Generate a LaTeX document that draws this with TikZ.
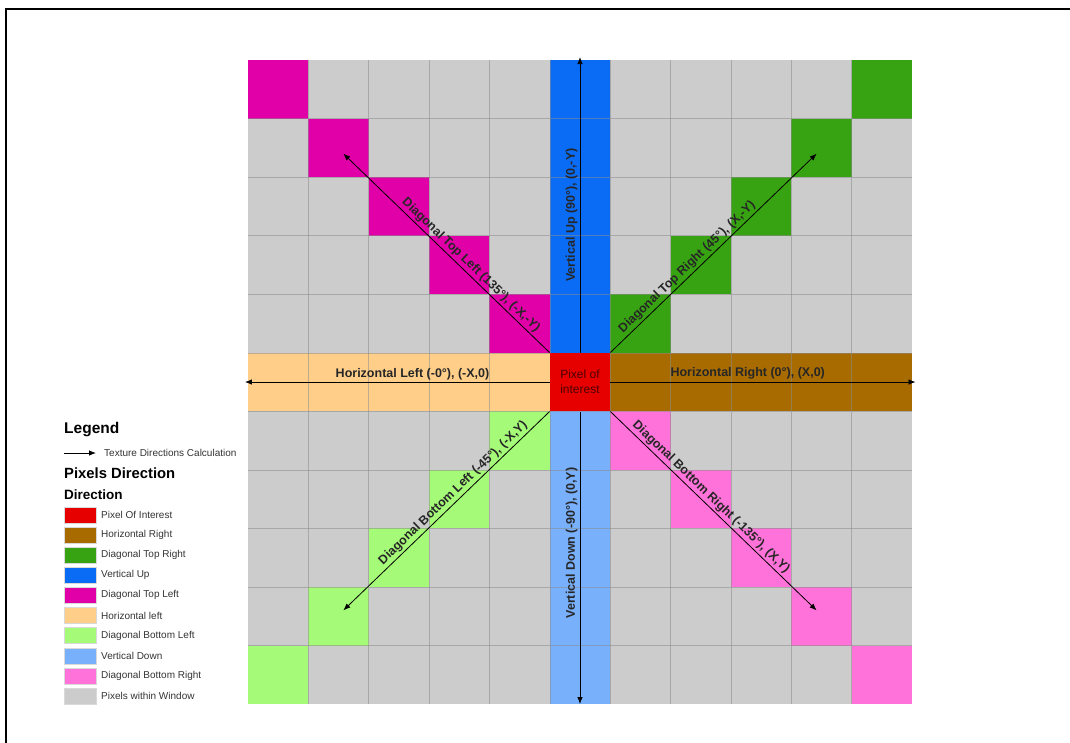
\documentclass[tikz,border=0pt]{standalone}
\usepackage{fontspec}
\setmainfont{Liberation Sans}
\usetikzlibrary{arrows.meta}
\definecolor{Window}{HTML}{CCCCCC}
\definecolor{Interest}{HTML}{E60000}
\definecolor{HorRight}{HTML}{A86B00}
\definecolor{DiagTR}{HTML}{38A312}
\definecolor{VertUp}{HTML}{0A6CF5}
\definecolor{DiagTL}{HTML}{E100A8}
\definecolor{HorLeft}{HTML}{FFCF8A}
\definecolor{DiagBL}{HTML}{A5FA78}
\definecolor{VertDown}{HTML}{78B0FB}
\definecolor{DiagBR}{HTML}{FF72D9}
\begin{document}
\begin{tikzpicture}[x=1pt,y=-1pt]
	\tikzstyle{Arrow} = [-{Latex[length=7pt,width=5.5pt]}, line width=0.8pt, black]
	\tikzstyle{Label} = [font=\bfseries\fontsize{12.5}{14}\selectfont, text=black!85, inner sep=2pt]
	\tikzstyle{Swatch} = [draw=black!15, minimum width=32pt, minimum height=16pt, inner sep=0pt]
	\tikzstyle{Item} = [font=\fontsize{10}{12}\selectfont, text=black!80, anchor=west, inner sep=0pt]
	\useasboundingbox (0,0) rectangle (1070,743);
	\draw[line width=1.3pt] (6,743) -- (6,9) -- (1070,9);
	% pixel window
	\begin{scope}[xshift=248pt, yshift=-60pt, x=60.36pt, y=-58.55pt]
		\fill[Window] (0,0) rectangle (11,11);
		\fill[HorLeft] (0,5) rectangle (5,6);
		\fill[HorRight] (6,5) rectangle (11,6);
		\fill[VertUp] (5,0) rectangle (6,5);
		\fill[VertDown] (5,6) rectangle (6,11);
		\foreach \i in {0,...,4} {
			\fill[DiagTL] (\i,\i) rectangle ++(1,1);
			\fill[DiagTR] (10-\i,\i) rectangle ++(1,1);
			\fill[DiagBL] (\i,10-\i) rectangle ++(1,1);
			\fill[DiagBR] (10-\i,10-\i) rectangle ++(1,1);
		}
		\foreach \k in {1,...,10} {
			\draw[black!45, line width=0.5pt, opacity=.55] (\k,0) -- (\k,11);
			\draw[black!45, line width=0.5pt, opacity=.55] (0,\k) -- (11,\k);
		}
		\node (poi) at (5.5,5.5) [fill=Interest, minimum width=60.36pt, minimum height=58.55pt, inner sep=0pt, align=center, font=\fontsize{12}{15}\selectfont, text=red!30!black] {Pixel of\\interest};
		\coordinate (up) at (5.5,-0.05);
		\coordinate (down) at (5.5,11.0);
		\coordinate (left) at (-0.05,5.5);
		\coordinate (right) at (11.06,5.5);
		\coordinate (tl) at (1.58,1.6);
		\coordinate (tr) at (9.42,1.6);
		\coordinate (bl) at (1.58,9.4);
		\coordinate (br) at (9.42,9.4);
	\end{scope}
	\draw[Arrow] (poi.north) -- (up) node[Label, pos=.465, rotate=90, anchor=south] {Vertical Up (90°), (0,-Y)};
	\draw[Arrow] (poi.south) -- (down) node[Label, pos=.45, rotate=90, anchor=south] {Vertical Down (-90°), (0,Y)};
	\draw[Arrow] (poi.west) -- (left) node[Label, pos=.45, sloped, above] {Horizontal Left (-0°), (-X,0)};
	\draw[Arrow] (poi.east) -- (right) node[Label, pos=.45, sloped, above] {Horizontal Right (0°), (X,0)};
	\draw[Arrow] (poi.north west) -- (tl) node[Label, pos=.41, sloped, above] {Diagonal Top Left (135°), (-X,-Y)};
	\draw[Arrow] (poi.north east) -- (tr) node[Label, pos=.40, sloped, above] {Diagonal Top Right (45°), (X,-Y)};
	\draw[Arrow] (poi.south west) -- (bl) node[Label, pos=.44, sloped, above] {Diagonal Bottom Left (-45°), (-X,Y)};
	\draw[Arrow] (poi.south east) -- (br) node[Label, pos=.46, sloped, above] {Diagonal Bottom Right (-135°), (X,Y)};
	% legend
	\node (legend) at (64,433) [anchor=base west, inner sep=0pt, font=\bfseries\fontsize{15.5}{17}\selectfont] {Legend};
	\coordinate (lgs) at (64,453);
	\coordinate (lge) at (96,453);
	\draw[Arrow] (lgs) -- (lge);
	\node (texdir) at (104,453) [Item] {Texture Directions Calculation};
	\node (pixdir) at (64,478) [anchor=base west, inner sep=0pt, font=\bfseries\fontsize{14.8}{17}\selectfont] {Pixels Direction};
	\node (dir) at (64,499) [anchor=base west, inner sep=0pt, font=\bfseries\fontsize{13.5}{15}\selectfont] {Direction};
	\foreach \c/\t [count=\n from 0] in {Interest/Pixel Of Interest, HorRight/Horizontal Right, DiagTR/Diagonal Top Right, VertUp/Vertical Up, DiagTL/Diagonal Top Left, HorLeft/Horizontal left, DiagBL/Diagonal Bottom Left, VertDown/Vertical Down, DiagBR/Diagonal Bottom Right, Window/Pixels within Window} {
		\node (sw\n) at (80,515+20.1*\n) [Swatch, fill=\c] {};
		\node (it\n) at (101,515+20.1*\n) [Item] {\t};
	}
\end{tikzpicture}
\end{document}
